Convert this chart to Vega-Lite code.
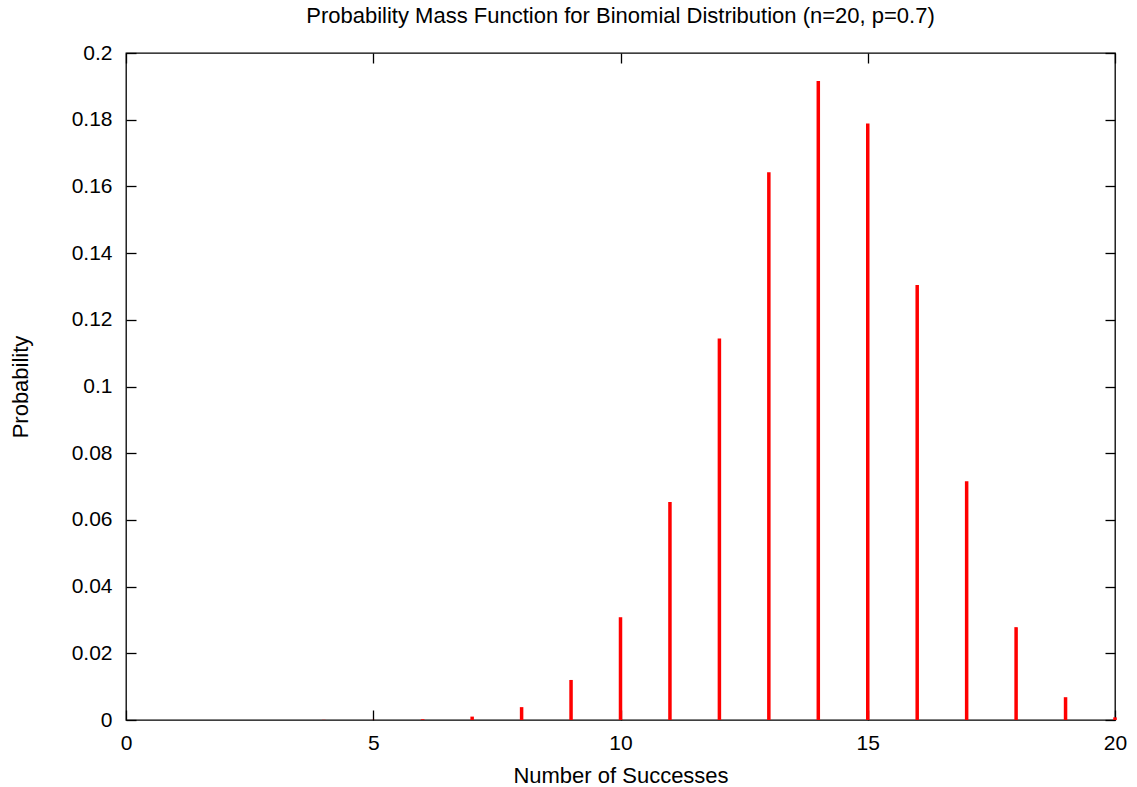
{
  "$schema": "https://vega.github.io/schema/vega-lite/v6.json",
  "autosize": {"type": "none"},
  "padding": {"left": 126, "top": 53, "right": 22, "bottom": 67},
  "width": 989,
  "height": 667,
  "background": "white",
  "title": {
    "text": "Probability Mass Function for Binomial Distribution (n=20, p=0.7)",
    "font": "Liberation Sans",
    "fontSize": 22,
    "fontWeight": "normal",
    "color": "black",
    "anchor": "middle",
    "offset": 14
  },
  "config": {
    "view": {"stroke": "black", "strokeWidth": 1.3},
    "axis": {
      "labelFont": "Liberation Sans",
      "labelFontSize": 21,
      "labelColor": "black",
      "labelFlush": false,
      "labelOverlap": false,
      "titleFont": "Liberation Sans",
      "titleFontSize": 22,
      "titleFontWeight": "normal",
      "titleColor": "black",
      "domain": false,
      "grid": false,
      "tickColor": "black",
      "tickSize": -10,
      "tickWidth": 1.3
    }
  },
  "data": {
    "values": [
      {"k": 0, "p": 0.0000000003},
      {"k": 1, "p": 0.000000014},
      {"k": 2, "p": 0.0000003},
      {"k": 3, "p": 0.000005},
      {"k": 4, "p": 0.00005},
      {"k": 5, "p": 0.000037},
      {"k": 6, "p": 0.000218},
      {"k": 7, "p": 0.001018},
      {"k": 8, "p": 0.003860},
      {"k": 9, "p": 0.012007},
      {"k": 10, "p": 0.030817},
      {"k": 11, "p": 0.065370},
      {"k": 12, "p": 0.114397},
      {"k": 13, "p": 0.164262},
      {"k": 14, "p": 0.191639},
      {"k": 15, "p": 0.178863},
      {"k": 16, "p": 0.130421},
      {"k": 17, "p": 0.071604},
      {"k": 18, "p": 0.027846},
      {"k": 19, "p": 0.006839},
      {"k": 20, "p": 0.000798}
    ]
  },
  "layer": [
    {
      "mark": {"type": "rule", "color": "#ff0000", "strokeWidth": 3.5, "clip": false},
      "encoding": {
        "x": {
          "field": "k", "type": "quantitative",
          "scale": {"domain": [0, 20], "nice": false, "zero": false},
          "axis": {"orient": "bottom", "values": [0, 5, 10, 15, 20], "title": "Number of Successes", "labelPadding": 22, "titleY": 55, "titleBaseline": "middle"}
        },
        "y": {
          "field": "p", "type": "quantitative",
          "scale": {"domain": [0, 0.2], "nice": false},
          "axis": {"orient": "left", "values": [0, 0.02, 0.04, 0.06, 0.08, 0.1, 0.12, 0.14, 0.16, 0.18, 0.2], "labelExpr": "format(datum.value, '.2~f')", "title": "Probability", "labelPadding": 24, "titleX": -105.5, "titleY": 333.5, "titleBaseline": "middle"}
        },
        "y2": {"datum": 0}
      }
    },
    {
      "mark": {"type": "rule", "opacity": 0},
      "encoding": {
        "x": {
          "field": "k", "type": "quantitative",
          "axis": {"orient": "top", "values": [0, 5, 10, 15, 20], "labels": false, "title": null}
        },
        "y": {
          "field": "p", "type": "quantitative",
          "axis": {"orient": "right", "values": [0, 0.02, 0.04, 0.06, 0.08, 0.1, 0.12, 0.14, 0.16, 0.18, 0.2], "labels": false, "title": null}
        },
        "y2": {"datum": 0}
      }
    }
  ],
  "resolve": {"axis": {"x": "independent", "y": "independent"}}
}
